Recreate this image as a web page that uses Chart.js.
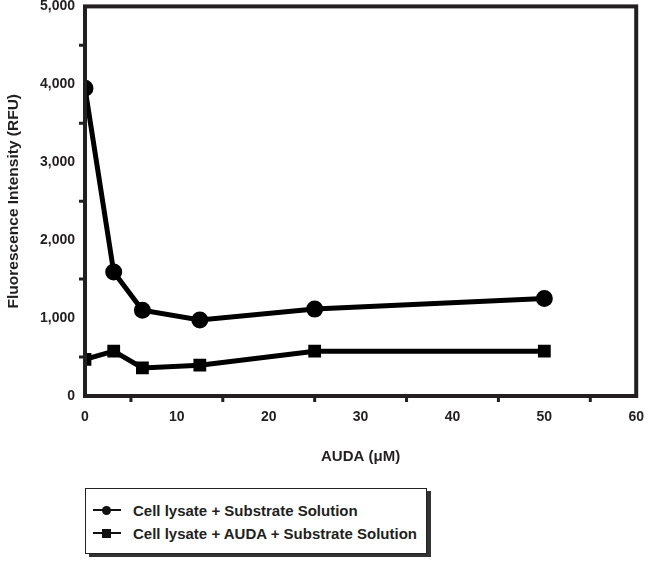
<!doctype html>
<html lang="en">
<head>
    <meta charset="utf-8">
    <script src="https://cdn.jsdelivr.net/npm/chart.js"></script>
    <title>Fluorescence vs concentration</title>
    <style>
        body { margin: 0; background: #fff; font-family: "Liberation Sans", Arial, sans-serif; }
        #wrap { position: relative; top: -5px; width: 650px; height: 475px; }
        #legend {
            position: absolute; left: 85px; top: 488px; width: 340px; height: 64px;
            border: 1px solid #222; box-shadow: 4px 3px 0 #333; background: #fff;
        }
        .row { position: absolute; left: 7px; height: 18px; display: flex; align-items: center;
               font-weight: bold; font-size: 15px; color: #231f20; white-space: nowrap; }
        .mk { position: relative; width: 28px; height: 16px; margin-right: 12px; }
        .mk .ln { position: absolute; left: 0; right: 0; top: 7px; height: 2px; background: #111; }
        .mk .dot { position: absolute; left: 9px; top: 4px; width: 9px; height: 9px; background: #111; }
    </style>
</head>
<body>
<div id="wrap"><canvas id="chart"></canvas></div>
<div id="legend"></div>
<script>
    // concentrations (uM)
    var xValues = [0, 3.125, 6.25, 12.5, 25, 50];
    var lysateSubstrate = [3950, 1590, 1100, 975, 1115, 1250];
    var lysateAudaSubstrate = [470, 575, 360, 395, 575, 575];
    var seriesLabels = ['Cell lysate + Substrate Solution', 'Cell lysate + AUDA + Substrate Solution'];
    var seriesMarkers = ['circle', 'rect'];
    var xTicks = [0, 10, 20, 30, 40, 50, 60];
    var yTicks = [0, 1000, 2000, 3000, 4000, 5000];

    function pts(ys) {
        return xValues.map(function (x, i) { return {x: x, y: ys[i]}; });
    }

    // box round the plot + minor ticks
    var frame = {
        id: 'frame',
        afterDraw: function (chart) {
            var c = chart.ctx, a = chart.chartArea;
            c.save();
            c.strokeStyle = '#231f20';
            c.lineWidth = 4;
            c.strokeRect(a.left, a.top, a.right - a.left, a.bottom - a.top);
            c.lineWidth = 3;
            var xs = chart.scales.x, ys = chart.scales.y;
            c.beginPath();
            for (var v = 5; v < 60; v += 10) {
                var px = xs.getPixelForValue(v);
                c.moveTo(px, a.bottom); c.lineTo(px, a.bottom + 6);
            }
            for (var w = 500; w < 5000; w += 1000) {
                var py = ys.getPixelForValue(w);
                c.moveTo(a.left, py); c.lineTo(a.left - 6, py);
            }
            c.stroke();
            c.restore();
        }
    };

    Chart.defaults.font.family = '"Liberation Sans", Arial, sans-serif';
    Chart.defaults.color = '#231f20';

    var ctx = document.getElementById('chart');
    new Chart(ctx, {
        type: 'line',
        data: {
            datasets: [{
                label: seriesLabels[0],
                data: pts(lysateSubstrate),
                borderColor: '#000',
                backgroundColor: '#000',
                borderWidth: 5,
                pointStyle: seriesMarkers[0],
                pointRadius: 6,
                tension: 0
            }, {
                label: seriesLabels[1],
                data: pts(lysateAudaSubstrate),
                borderColor: '#000',
                backgroundColor: '#000',
                borderWidth: 5,
                pointStyle: seriesMarkers[1],
                pointRadius: 5.5,
                tension: 0
            }]
        },
        options: {
            responsive: true,
            maintainAspectRatio: false,
            animation: false,
            layout: {padding: {top: 0, right: 13, left: 0, bottom: 0}},
            scales: {
                x: {
                    type: 'linear',
                    min: 0, max: 60,
                    afterBuildTicks: function (s) { s.ticks = xTicks.map(function (v) { return {value: v}; }); },
                    afterFit: function (s) { s.height = 74; },
                    grid: {display: false, drawTicks: true, tickLength: 7, tickWidth: 3, tickColor: '#231f20'},
                    border: {display: false},
                    ticks: {font: {size: 14, weight: 'bold'}, padding: 6, maxRotation: 0},
                    title: {display: true, text: 'AUDA (μM)', font: {size: 15, weight: 'bold'}, padding: {top: 10}}
                },
                y: {
                    min: 0, max: 5000,
                    afterBuildTicks: function (s) { s.ticks = yTicks.map(function (v) { return {value: v}; }); },
                    afterFit: function (s) { s.width = 85; },
                    grid: {display: false, drawTicks: true, tickLength: 7, tickWidth: 3, tickColor: '#231f20'},
                    border: {display: false},
                    ticks: {
                        font: {size: 14, weight: 'bold'}, padding: 3,
                        callback: function (v) { return v.toLocaleString('en-US'); }
                    },
                    title: {display: true, text: 'Fluorescence Intensity (RFU)', font: {size: 15.5, weight: 'bold'}, padding: {bottom: 14}}
                }
            },
            plugins: {
                legend: {display: false},
                tooltip: {enabled: false}
            }
        },
        plugins: [frame]
    });

    // legend box below the chart
    var lg = document.getElementById('legend');
    seriesLabels.forEach(function (name, i) {
        var row = document.createElement('div');
        row.className = 'row';
        row.style.top = (12 + i * 23) + 'px';
        var mk = document.createElement('div');
        mk.className = 'mk';
        mk.innerHTML = '<div class="ln"></div><div class="dot"' +
            (seriesMarkers[i] === 'circle' ? ' style="border-radius:50%"' : '') + '></div>';
        row.appendChild(mk);
        row.appendChild(document.createTextNode(name));
        lg.appendChild(row);
    });
</script>
</body>
</html>
